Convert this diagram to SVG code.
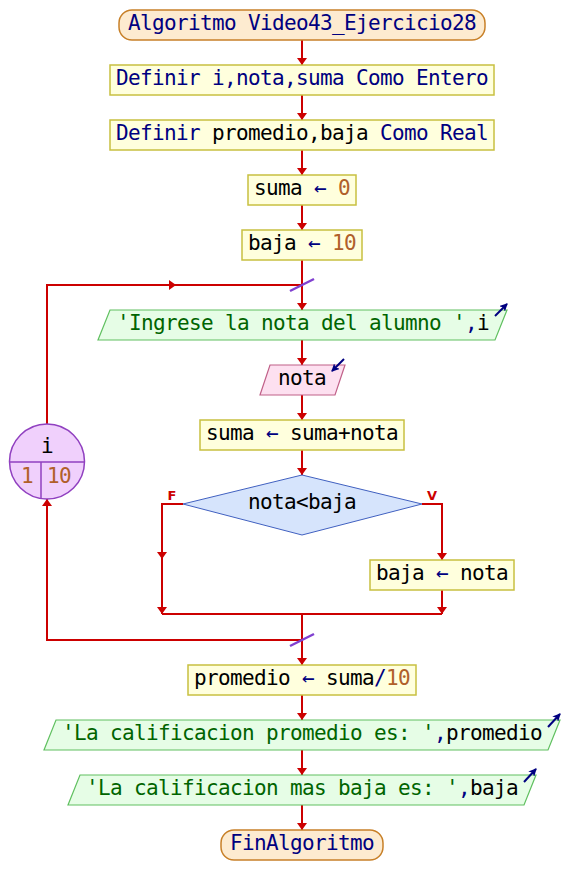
<svg xmlns="http://www.w3.org/2000/svg" width="564" height="895" viewBox="0 0 564 895">
<defs>
<style>
text{font-family:"DejaVu Sans Mono","Liberation Mono",monospace;font-size:21px;letter-spacing:-0.64px;text-anchor:middle;fill:#000}
.kw{fill:#000080}
.num{fill:#b0602a}
.str{fill:#006400}
.op{fill:#000080}
.proc{fill:#ffffdd;stroke:#c8c040;stroke-width:1.5}
.term{fill:#fdebd0;stroke:#c88028;stroke-width:1.5}
.out{fill:#e6fde6;stroke:#60c060;stroke-width:1.2}
.inp{fill:#fde0f0;stroke:#c06088;stroke-width:1.2}
.dec{fill:#d6e4fc;stroke:#4060c0;stroke-width:1}
.loop{fill:#f0d0fc;stroke:#9040c0;stroke-width:1.5}
.c{fill:none;stroke:#cc0000;stroke-width:2}
.io{fill:none;stroke:#000080;stroke-width:2}
.sl{stroke:#8040d0;stroke-width:2.5}
.lbl{font-family:"DejaVu Sans","Liberation Sans",sans-serif;font-size:13px;letter-spacing:0;font-weight:bold;fill:#cc0000}
</style>
<marker id="ah" viewBox="0 0 7 10" refX="7" refY="5" markerWidth="7" markerHeight="10" markerUnits="userSpaceOnUse" orient="auto">
<path d="M0,0 L7,5 L0,10 z" fill="#cc0000"/>
</marker>
<marker id="na" viewBox="0 0 8 8" refX="7" refY="4" markerWidth="8" markerHeight="8" markerUnits="userSpaceOnUse" orient="auto">
<path d="M0,0 L8,4 L0,8 L2,4 z" fill="#000080"/>
</marker>
</defs>

<g id="connectors">
<path class="c" d="M302,40 V65" marker-end="url(#ah)"/>
<path class="c" d="M302,95 V120" marker-end="url(#ah)"/>
<path class="c" d="M302,150 V175" marker-end="url(#ah)"/>
<path class="c" d="M302,205 V230" marker-end="url(#ah)"/>
<path class="c" d="M302,260 V310" marker-end="url(#ah)"/>
<path class="c" d="M47,424 V285 H176" marker-end="url(#ah)"/>
<path class="c" d="M175,285 H302"/>
<path class="c" d="M302,340 V365" marker-end="url(#ah)"/>
<path class="c" d="M302,395 V420" marker-end="url(#ah)"/>
<path class="c" d="M302,450 V475" marker-end="url(#ah)"/>
<path class="c" d="M183,504 H162 V559" marker-end="url(#ah)"/>
<path class="c" d="M162,558 V614" marker-end="url(#ah)"/>
<path class="c" d="M422,504 H442 V560" marker-end="url(#ah)"/>
<path class="c" d="M442,590 V614" marker-end="url(#ah)"/>
<path class="c" d="M162,614 H442"/>
<path class="c" d="M302,614 V665" marker-end="url(#ah)"/>
<path class="c" d="M302,640 H47 V499" marker-end="url(#ah)"/>
<path class="c" d="M302,695 V720" marker-end="url(#ah)"/>
<path class="c" d="M302,750 V775" marker-end="url(#ah)"/>
<path class="c" d="M302,805 V830" marker-end="url(#ah)"/>
<line class="sl" x1="290" y1="291" x2="314" y2="279"/>
<line class="sl" x1="290" y1="646" x2="314" y2="634"/>
<text class="lbl" x="172" y="500">F</text>
<text class="lbl" x="432" y="500">V</text>
</g>

<g id="start">
<rect class="term" x="119" y="10" width="366" height="30" rx="13"/>
<text x="302" y="29.5" class="kw">Algoritmo Video43_Ejercicio28</text>
</g>

<g id="def1">
<rect class="proc" x="110" y="65" width="384" height="30"/>
<text x="302" y="84.5" class="kw">Definir i,nota,suma Como Entero</text>
</g>

<g id="def2">
<rect class="proc" x="110" y="120" width="384" height="30"/>
<text x="302" y="139.5"><tspan class="kw">Definir </tspan><tspan>promedio,baja</tspan><tspan class="kw"> Como Real</tspan></text>
</g>

<g id="suma0">
<rect class="proc" x="248" y="175" width="108" height="30"/>
<text x="302" y="194.5"><tspan>suma </tspan><tspan class="op">←</tspan><tspan> </tspan><tspan class="num">0</tspan></text>
</g>

<g id="baja10">
<rect class="proc" x="242" y="230" width="120" height="30"/>
<text x="302" y="249.5"><tspan>baja </tspan><tspan class="op">←</tspan><tspan> </tspan><tspan class="num">10</tspan></text>
</g>

<g id="loop">
<circle class="loop" cx="47" cy="461.5" r="37.5"/>
<line x1="9.5" y1="462" x2="84.5" y2="462" stroke="#9040c0" stroke-width="1.5"/>
<line x1="41" y1="462" x2="41" y2="498" stroke="#9040c0" stroke-width="1.5"/>
<text x="47" y="453">i</text>
<text x="27" y="483" class="num">1</text>
<text x="59" y="483" class="num">10</text>
</g>

<g id="out0">
<polygon class="out" points="110,310 507,310 495,340 98,340"/>
<text x="303" y="329.5"><tspan class="str">'Ingrese la nota del alumno '</tspan><tspan class="op">,</tspan><tspan>i</tspan></text>
<path class="io" d="M495,316 L507,304" marker-end="url(#na)"/>
</g>

<g id="inp">
<polygon class="inp" points="270,365 345,365 335,395 260,395"/>
<text x="302" y="384.5">nota</text>
<path class="io" d="M344,359 L332,371" marker-end="url(#na)"/>
</g>

<g id="sumaacc">
<rect class="proc" x="200" y="420" width="204" height="30"/>
<text x="302" y="439.5"><tspan>suma </tspan><tspan class="op">←</tspan><tspan> suma+nota</tspan></text>
</g>

<g id="dec">
<polygon class="dec" points="302,475 422,504 302,535 183,504"/>
<text x="302" y="509">nota&lt;baja</text>
</g>

<g id="bajanota">
<rect class="proc" x="370" y="560" width="144" height="30"/>
<text x="442" y="579.5"><tspan>baja </tspan><tspan class="op">←</tspan><tspan> nota</tspan></text>
</g>

<g id="prom">
<rect class="proc" x="188" y="665" width="228" height="30"/>
<text x="302" y="684.5"><tspan>promedio </tspan><tspan class="op">←</tspan><tspan> suma</tspan><tspan class="op">/</tspan><tspan class="num">10</tspan></text>
</g>

<g id="out1">
<polygon class="out" points="56,720 560,720 548,750 44,750"/>
<text x="302" y="739.5"><tspan class="str">'La calificacion promedio es: '</tspan><tspan class="op">,</tspan><tspan>promedio</tspan></text>
<path class="io" d="M548,727 L560,714" marker-end="url(#na)"/>
</g>

<g id="out2">
<polygon class="out" points="80,775 536,775 524,805 68,805"/>
<text x="302" y="794.5"><tspan class="str">'La calificacion mas baja es: '</tspan><tspan class="op">,</tspan><tspan>baja</tspan></text>
<path class="io" d="M524,782 L536,769" marker-end="url(#na)"/>
</g>

<g id="end">
<rect class="term" x="221" y="830" width="162" height="30" rx="13"/>
<text x="302" y="849.5" class="kw">FinAlgoritmo</text>
</g>
</svg>
